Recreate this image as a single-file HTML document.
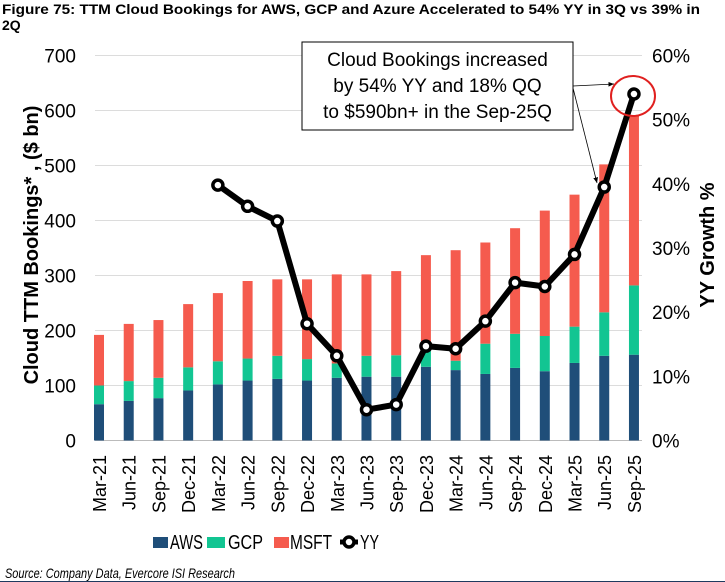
<!DOCTYPE html>
<html><head><meta charset="utf-8"><style>
html,body{margin:0;padding:0;background:#fff;}
svg{display:block;font-family:"Liberation Sans",Arial,sans-serif;}
</style></head><body>
<svg id="chart" width="725" height="582" viewBox="0 0 725 582" xmlns="http://www.w3.org/2000/svg">
<defs><marker id="ah" markerWidth="8" markerHeight="8" refX="7" refY="4" orient="auto"><path d="M0,1 L7,4 L0,7 z" fill="#000"/></marker></defs>
<text x="2" y="14" font-size="14" font-weight="bold" textLength="698" lengthAdjust="spacingAndGlyphs">Figure 75: TTM Cloud Bookings for AWS, GCP and Azure Accelerated to 54% YY in 3Q vs 39% in</text>
<text x="2" y="30" font-size="14" font-weight="bold">2Q</text>
<g id="grid"></g>
<g id="bars"></g>
<g id="line"></g>
<g id="axes"></g>
<text transform="translate(38,245) rotate(-90)" text-anchor="middle" font-size="20" font-weight="bold">Cloud TTM Bookings* , ($ bn)</text>
<text transform="translate(714,245) rotate(-90)" text-anchor="middle" font-size="20" font-weight="bold">YY Growth %</text>
<rect x="302" y="42" width="271" height="88" fill="#fff" stroke="#000" stroke-width="1"/>
<g font-size="19" text-anchor="middle">
<text x="437.5" y="66">Cloud Bookings increased</text>
<text x="437.5" y="92">by 54% YY and 18% QQ</text>
<text x="437.5" y="118">to $590bn+ in the Sep-25Q</text>
</g>
<line x1="573" y1="86" x2="614" y2="84" stroke="#000" stroke-width="0.8" marker-end="url(#ah)"/>
<line x1="573" y1="88" x2="597" y2="183" stroke="#000" stroke-width="0.8" marker-end="url(#ah)"/>
<ellipse cx="633" cy="96" rx="22" ry="20" fill="none" stroke="#e0201f" stroke-width="2"/>
<g id="legend" font-size="20">
<rect x="153" y="537" width="15" height="11" fill="#1f4e79"/>
<text x="170" y="549" textLength="33" lengthAdjust="spacingAndGlyphs">AWS</text>
<rect x="207" y="537" width="18" height="11" fill="#12c592"/>
<text x="228" y="549" textLength="35" lengthAdjust="spacingAndGlyphs">GCP</text>
<rect x="274" y="537" width="15" height="11" fill="#f55b4e"/>
<text x="290" y="549" textLength="42" lengthAdjust="spacingAndGlyphs">MSFT</text>
<line x1="340" y1="542" x2="358" y2="542" stroke="#000" stroke-width="5"/>
<circle cx="349" cy="542" r="5" fill="#fff" stroke="#000" stroke-width="3.5"/>
<text x="360" y="549" textLength="19" lengthAdjust="spacingAndGlyphs">YY</text>
</g>
<text x="5" y="578" font-size="14" font-style="italic" textLength="230" lengthAdjust="spacingAndGlyphs">Source: Company Data, Evercore ISI Research</text>
<line x1="0" y1="581.5" x2="725" y2="581.5" stroke="#1f3a5f" stroke-width="1"/>
</svg>
<script>
const categories=["Mar-21","Jun-21","Sep-21","Dec-21","Mar-22","Jun-22","Sep-22","Dec-22","Mar-23","Jun-23","Sep-23","Dec-23","Mar-24","Jun-24","Sep-24","Dec-24","Mar-25","Jun-25","Sep-25"];
const aws=[66,72,77,91,102,109,112,109,114,116,116,134,128,121,132,126,141,154,156];
const gcp=[34,36,37,42,42,40,42,39,26,38,39,40,17,55,62,64,66,79,126];
const msft=[92,104,105,115,124,141,139,145,162,148,153,163,201,184,192,228,240,269,308];
const yy=[null,null,null,null,39.8,36.5,34.2,18.2,13.2,4.8,5.6,14.7,14.3,18.6,24.6,24.0,29.0,39.5,54.0];
const leftTicks=[0,100,200,300,400,500,600,700];
const rightTicks=["0%","10%","20%","30%","40%","50%","60%"];
const NS="http://www.w3.org/2000/svg";
const y0=440.5,yTop=55.5,x0=99,step=29.72,bw=10;
function yL(v){return y0-(v/700)*(y0-yTop);}
function yR(p){return y0-(p/60)*(y0-yTop);}
function xC(i){return x0+i*step;}
function mk(tag,attrs,parent){const e=document.createElementNS(NS,tag);for(const k in attrs)e.setAttribute(k,attrs[k]);parent.appendChild(e);return e;}
const grid=document.getElementById('grid'),bars=document.getElementById('bars'),line=document.getElementById('line'),axes=document.getElementById('axes');
leftTicks.forEach(t=>{
  const g=mk('line',{x1:95,x2:642,y1:yL(t),y2:yL(t),stroke:t===0?'#bbb':'#dcdcdc','stroke-width':1},grid);
  
  
  const l=mk('text',{x:76,y:yL(t)+7,'text-anchor':'end','font-size':19},axes);
  l.textContent=t;
  
  
});
rightTicks.forEach((t,i)=>{
  const l=mk('text',{x:652,y:yR(i*10)+7,'font-size':19},axes);
  l.textContent=t;
  
  
});
categories.forEach((c,i)=>{
  const x=xC(i)-bw/2;
  const segs=[[aws[i],'#1f4e79','aws'],[gcp[i],'#12c592','gcp'],[msft[i],'#f55b4e','msft']];
  let base=0;
  segs.forEach(s=>{
    const r=mk('rect',{x:x,y:yL(base+s[0]),width:bw,height:yL(base)-yL(base+s[0]),fill:s[1]},bars);
    
    
    base+=s[0];
  });
  const t=mk('text',{transform:`translate(${xC(i)+7},455) rotate(-90)`,'text-anchor':'end','font-size':18},axes);
  t.textContent=c;
  
  
});
const pts=[];
yy.forEach((v,i)=>{if(v!==null)pts.push([xC(i),yR(v),categories[i]]);});
const pl=mk('polyline',{points:pts.map(p=>p[0]+','+p[1]).join(' '),fill:'none',stroke:'#000','stroke-width':6,'stroke-linejoin':'round'},line);


pts.forEach(p=>{
  const c=mk('circle',{cx:p[0],cy:p[1],r:5,fill:'#fff',stroke:'#000','stroke-width':3.5},line);
  
  
});
</script>
</body></html>
